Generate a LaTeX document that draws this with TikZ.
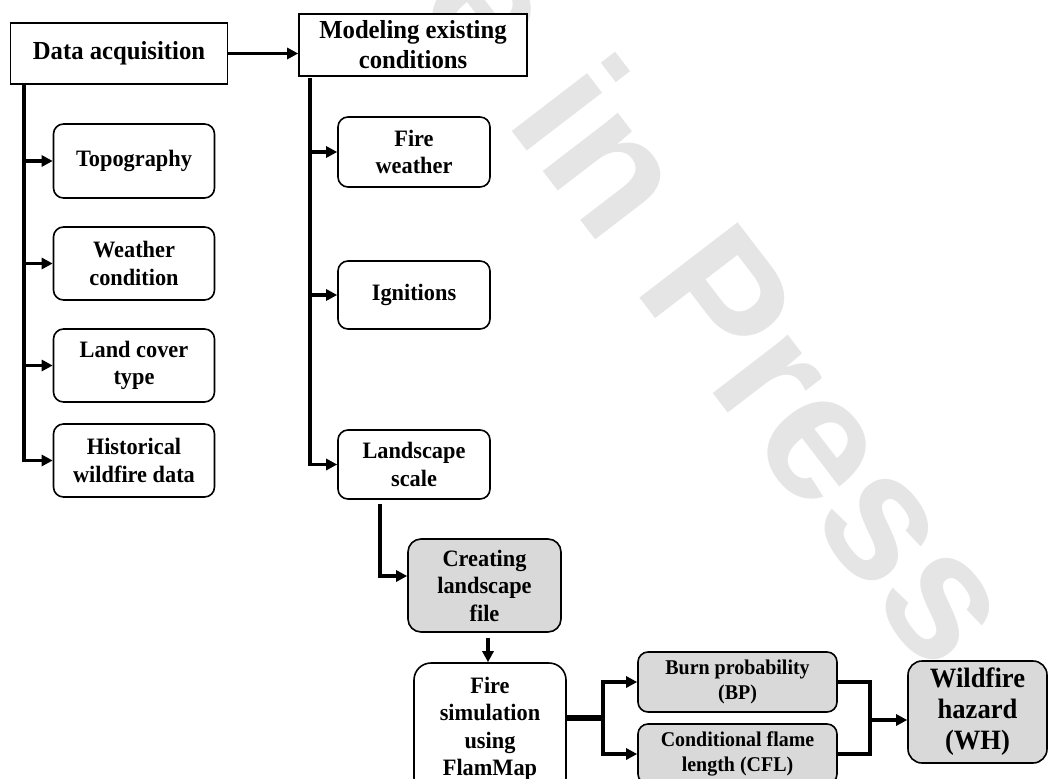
\documentclass[tikz,border=0pt]{standalone}
\usepackage{fontspec}
\setmainfont{Liberation Serif}[FakeStretch=0.95]
\newfontfamily\wmfont{Liberation Sans}
\usetikzlibrary{arrows.meta,positioning}

\begin{document}
\begin{tikzpicture}[x=1pt,y=-1pt,
  every node/.style={align=center,inner sep=0pt,font=\bfseries\fontsize{23.5}{27.5}\selectfont},
  sqbox/.style={draw,line width=1.6pt,fill=white,font=\bfseries\fontsize{26}{30}\selectfont},
  rbox/.style={draw,line width=1.6pt,fill=white,rounded corners=10pt,minimum width=161},
  gbox/.style={rbox,fill=gray!30},
  wire/.style={line width=3.8pt},
  conn/.style={wire,-{Triangle[length=11pt,width=11pt]}}]
\useasboundingbox (0,0) rectangle (1048,778);
\clip (0,0) rectangle (1048,778);
% watermark
\node[font=\wmfont\bfseries\fontsize{180}{180}\selectfont,text=black!10,rotate=-52.5,anchor=base west] (wm) at (133.5,-362.7) {Article in Press};
% first column
\node[sqbox,minimum width=217,minimum height=61] (acq) at (119,53.5) {Data acquisition};
\node[rbox,minimum height=74] (topo) at (134,161) {Topography};
\node[rbox,minimum height=73] (weather) at (134,263.5) {Weather\\condition};
\node[rbox,minimum height=73] (landcover) at (134,365.5) {Land cover\\type};
\node[rbox,minimum height=73] (hist) at (134,460.5) {Historical\\wildfire data};
% second column
\node[sqbox,minimum width=228,minimum height=62] (model) at (413,45) {Modeling existing\\conditions};
\node[rbox,minimum width=152,minimum height=70] (firew) at (414,152) {Fire\\weather};
\node[rbox,minimum width=152,minimum height=68] (ign) at (414,295) {Ignitions};
\node[rbox,minimum width=152,minimum height=69] (land) at (414,464.5) {Landscape\\scale};
% simulation
\node[gbox,minimum width=153,minimum height=93,rounded corners=13pt] (lcp) at (484.5,585.5) {Creating\\landscape\\file};
\node[rbox,minimum width=152,minimum height=132,rounded corners=17pt] (sim) at (490,729) {Fire\\simulation\\using\\FlamMap};
\node[gbox,minimum width=199,minimum height=60,font=\bfseries\fontsize{21}{25}\selectfont] (bp) at (737.5,682) {Burn probability\\(BP)};
\node[gbox,minimum width=199,minimum height=60,font=\bfseries\fontsize{21}{25}\selectfont] (cfl) at (737.5,754) {Conditional flame\\length (CFL)};
\node[gbox,minimum width=139,minimum height=102,rounded corners=14pt,font=\bfseries\fontsize{28}{31}\selectfont] (wh) at (977.5,712) {Wildfire\\hazard\\(WH)};

\coordinate (ltrunk) at (24,84);
\coordinate (rtrunk) at (310,78);
\coordinate (split) at (603,718);
\coordinate (merge) at (870,720);

\draw[conn] (acq.east) -- (acq.east -| model.west);
\draw[conn] (ltrunk) |- (hist.west);
\foreach \n in {topo,weather,landcover}
  \draw[conn] (ltrunk |- \n.west) -- (\n.west);
\draw[conn] (rtrunk) |- (land.west);
\foreach \n in {firew,ign}
  \draw[conn] (rtrunk |- \n.west) -- (\n.west);
\draw[conn] ([xshift=-34pt,yshift=-4pt]land.south) |- ([yshift=9.5pt]lcp.west);
\draw[conn] ([xshift=3.5pt,yshift=-5pt]lcp.south) -- ([xshift=3.5pt]lcp.south |- sim.north);
\draw[line width=6pt] ([yshift=11pt]sim.east) -- (split);
\draw[conn] (split) |- (bp.west);
\draw[conn] (split) |- (cfl.west);
\draw[wire] (bp.east) -| (merge);
\draw[wire] (cfl.east) -| (merge);
\draw[conn] (merge) -- (merge -| wh.west);
\end{tikzpicture}
\end{document}
